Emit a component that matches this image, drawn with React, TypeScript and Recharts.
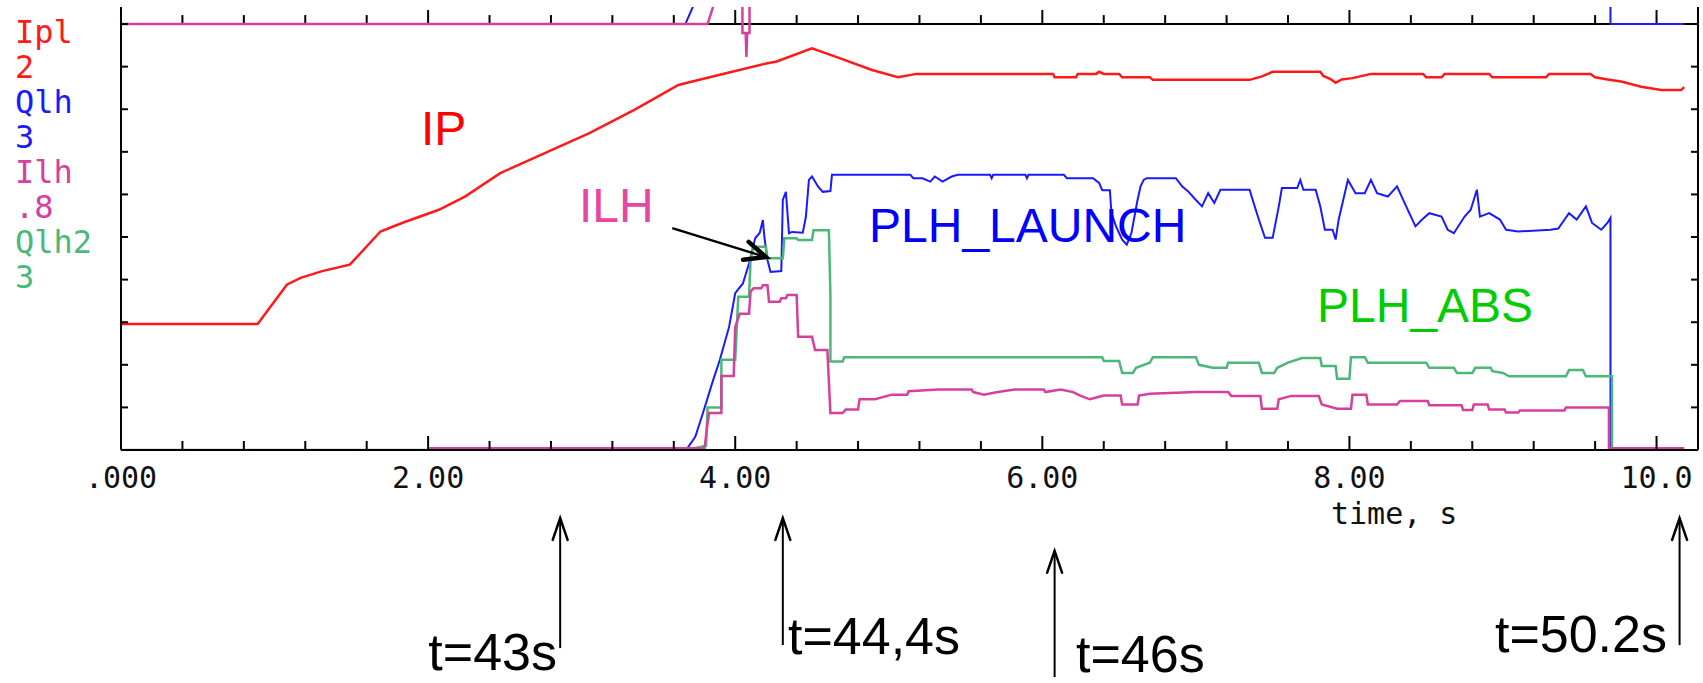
import { LineChart, Line, XAxis, YAxis, ReferenceLine } from "recharts";

// time axis (s), one minor tick every 0.4 s, labelled every 2 s
const xTicks = [0, 0.4, 0.8, 1.2, 1.6, 2, 2.4, 2.8, 3.2, 3.6, 4, 4.4, 4.8, 5.2, 5.6, 6, 6.4, 6.8, 7.2, 7.6, 8, 8.4, 8.8, 9.2, 9.6, 10];
const xMajor = [0, 2, 4, 6, 8, 10];
const xMajorLabels = [".000", "2.00", "4.00", "6.00", "8.00", "10.0"];
// vertical divisions (no labels, each trace has its own scale)
const yTicks = [0, 1, 2, 3, 4, 5, 6, 7, 8, 9, 10];

// trace legend on the left: name / scale / colour
const traceNames = ["Ipl", "Qlh", "Ilh", "Qlh2"];
const traceScales = ["2", "3", ".8", "3"];
const traceColors = ["#ff1a1a", "#1a1aff", "#d6409c", "#4cb878"];

type Pt = [number, number | null];

// plasma current, divisions
const ipl: Pt[] = [
  [0, 2.96], [0.89, 2.96], [1.08, 3.88], [1.17, 4.04], [1.31, 4.2], [1.49, 4.35], [1.69, 5.13], [1.83, 5.33],
  [2.07, 5.64], [2.24, 5.95], [2.47, 6.5], [2.76, 6.97], [3.05, 7.44], [3.34, 7.98], [3.63, 8.57], [3.72, 8.65],
  [3.98, 8.88], [4.21, 9.08], [4.27, 9.12], [4.5, 9.43], [4.68, 9.2], [4.89, 8.92], [5.06, 8.75], [5.18, 8.83],
  [6.07, 8.83], [6.08, 8.75], [6.22, 8.75], [6.23, 8.83], [6.35, 8.83], [6.37, 8.88], [6.4, 8.83], [6.5, 8.83],
  [6.52, 8.75], [6.7, 8.75], [6.72, 8.69], [7.35, 8.69], [7.43, 8.77], [7.5, 8.88], [7.81, 8.88], [7.83, 8.78],
  [7.88, 8.7], [7.91, 8.62], [7.95, 8.7], [8.02, 8.73], [8.14, 8.83], [8.48, 8.83], [8.5, 8.75], [8.6, 8.75],
  [8.62, 8.83], [8.91, 8.83], [8.93, 8.75], [9.28, 8.75], [9.3, 8.83], [9.57, 8.83], [9.6, 8.75], [9.68, 8.7],
  [9.77, 8.65], [9.9, 8.53], [10.03, 8.45], [10.16, 8.45], [10.18, 8.52],
];

// LH launched power
const qlh: Pt[] = [
  [0, 0], [3.68, 0], [3.74, 0.31], [3.79, 0.87], [3.85, 1.57], [3.9, 2.12], [3.96, 2.89], [4.0, 3.68],
  [4.05, 3.91], [4.09, 4.38], [4.13, 4.97], [4.16, 5.1], [4.18, 5.4], [4.19, 5.0], [4.21, 4.46], [4.23, 4.18],
  [4.3, 4.2], [4.31, 5.87], [4.33, 6.06], [4.35, 5.09], [4.37, 5.12], [4.44, 5.1], [4.46, 5.47], [4.48, 6.34],
  [4.5, 6.42], [4.54, 6.18], [4.57, 6.06], [4.62, 6.08], [4.63, 6.46], [5.14, 6.46], [5.16, 6.38], [5.22, 6.38],
  [5.27, 6.3], [5.3, 6.42], [5.35, 6.3], [5.41, 6.42], [5.45, 6.46], [5.66, 6.46], [5.67, 6.38], [5.68, 6.46],
  [5.89, 6.46], [5.9, 6.38], [5.91, 6.46], [6.14, 6.46], [6.16, 6.38], [6.33, 6.38], [6.37, 6.27], [6.39, 6.1],
  [6.44, 6.1], [6.45, 5.56], [6.48, 5.25], [6.52, 4.94], [6.55, 4.82], [6.58, 5.09], [6.62, 5.87], [6.64, 6.19],
  [6.66, 6.34], [6.68, 6.38], [6.87, 6.38], [6.91, 6.19], [6.95, 6.07], [7.0, 5.87], [7.04, 5.72], [7.08, 6.03],
  [7.12, 5.8], [7.16, 6.11], [7.35, 6.11], [7.37, 5.87], [7.41, 5.41], [7.45, 4.98], [7.5, 4.98], [7.54, 5.72],
  [7.56, 6.15], [7.66, 6.15], [7.68, 6.34], [7.7, 6.11], [7.78, 6.11], [7.81, 5.72], [7.84, 5.17], [7.89, 5.17],
  [7.91, 4.94], [7.93, 5.41], [7.99, 6.34], [8.04, 6.03], [8.1, 6.03], [8.14, 6.34], [8.18, 6.03], [8.25, 5.95],
  [8.31, 6.19], [8.35, 5.87], [8.39, 5.56], [8.43, 5.25], [8.47, 5.4], [8.52, 5.56], [8.6, 5.48], [8.64, 5.17],
  [8.68, 5.09], [8.75, 5.48], [8.79, 5.64], [8.83, 6.11], [8.85, 5.48], [8.91, 5.56], [8.98, 5.41], [9.02, 5.17],
  [9.1, 5.13], [9.31, 5.17], [9.36, 5.2], [9.43, 5.56], [9.48, 5.41], [9.54, 5.72], [9.58, 5.33], [9.64, 5.17],
  [9.68, 5.33], [9.7, 5.45], [9.7, 0], [10.18, 0],
];

// LH absorbed power
const qlh2: Pt[] = [
  [0, 0], [3.68, 0], [3.81, 0.1], [3.82, 1.0], [3.91, 1.0], [3.91, 2.12], [4.0, 2.12], [4.02, 3.6], [4.09, 3.6],
  [4.1, 4.46], [4.12, 4.77], [4.2, 4.77], [4.21, 4.5], [4.31, 4.5], [4.32, 4.97], [4.4, 4.97], [4.41, 4.93],
  [4.5, 4.93], [4.51, 5.16], [4.61, 5.16], [4.62, 3.64], [4.62, 2.08], [4.7, 2.08], [4.71, 2.18], [6.39, 2.18],
  [6.4, 2.09], [6.5, 2.09], [6.52, 1.81], [6.59, 1.81], [6.61, 1.93], [6.7, 2.05], [6.72, 2.18], [7.0, 2.18],
  [7.02, 2.0], [7.11, 1.93], [7.2, 1.93], [7.21, 2.05], [7.41, 2.05], [7.43, 1.81], [7.51, 1.81], [7.53, 1.93],
  [7.6, 2.05], [7.69, 2.16], [7.81, 2.16], [7.82, 1.97], [7.91, 1.97], [7.92, 1.67], [8.0, 1.67], [8.01, 2.18],
  [8.1, 2.18], [8.12, 2.05], [8.5, 2.05], [8.52, 1.93], [8.68, 1.93], [8.7, 1.81], [8.8, 1.81], [8.82, 1.93],
  [8.92, 1.93], [8.93, 1.85], [9.0, 1.81], [9.04, 1.73], [9.41, 1.73], [9.43, 1.88], [9.52, 1.88], [9.54, 1.73],
  [9.71, 1.73], [9.71, 0], [10.18, 0],
];

// LH antenna current
const ilh: Pt[] = [
  [2.0, 0.04], [3.8, 0.04], [3.82, 0.63], [3.83, 0.87], [3.91, 0.87], [3.91, 1.74], [3.99, 1.74], [4.0, 2.89],
  [4.03, 3.2], [4.09, 3.2], [4.1, 3.72], [4.12, 3.8], [4.17, 3.8], [4.18, 3.87], [4.21, 3.87], [4.22, 3.48],
  [4.29, 3.48], [4.3, 3.56], [4.33, 3.56], [4.34, 3.64], [4.4, 3.64], [4.41, 2.66], [4.5, 2.66], [4.52, 2.35],
  [4.6, 2.35], [4.62, 0.87], [4.7, 0.87], [4.72, 0.95], [4.8, 0.95], [4.81, 1.19], [4.91, 1.19], [5.02, 1.3],
  [5.12, 1.3], [5.13, 1.38], [5.32, 1.42], [5.54, 1.42], [5.55, 1.36], [5.62, 1.3], [5.71, 1.36], [5.82, 1.42],
  [6.01, 1.42], [6.02, 1.36], [6.12, 1.42], [6.2, 1.36], [6.25, 1.27], [6.31, 1.19], [6.4, 1.28], [6.51, 1.28],
  [6.52, 1.07], [6.62, 1.07], [6.63, 1.28], [6.7, 1.32], [7.0, 1.36], [7.21, 1.36], [7.23, 1.27], [7.42, 1.27],
  [7.43, 0.97], [7.53, 0.97], [7.54, 1.19], [7.62, 1.27], [7.8, 1.27], [7.82, 1.07], [7.92, 0.97], [8.01, 0.97],
  [8.02, 1.3], [8.11, 1.3], [8.12, 1.07], [8.31, 1.07], [8.33, 1.15], [8.51, 1.15], [8.52, 1.05], [8.73, 1.05],
  [8.74, 0.94], [8.8, 0.94], [8.81, 1.07], [8.9, 1.07], [8.91, 0.95], [9.01, 0.95], [9.02, 0.88], [9.1, 0.88],
  [9.11, 0.93], [9.4, 0.93], [9.41, 1.0], [9.69, 1.0], [9.69, 0.04], [10.18, 0.04],
];

// parts of the traces that run off the top division into the panel above
const qlhWrap: Pt[] = [[3.675, 10], [3.73, 10.45], [3.8, null], [9.7, 10.45], [9.7, 10], [10.18, 10]];
const ilhWrap: Pt[] = [
  [0, 10], [3.82, 10], [3.86, 10.45], [3.95, null], [4.047, 10.45], [4.047, 9.79], [4.068, 9.79],
  [4.073, 9.23], [4.078, 9.79], [4.093, 9.79], [4.093, 10.45],
];

// event markers below the time axis
const eventT = [2.86, 4.31, 6.08, 10.15];
const eventTip = [-1.6, -1.6, -2.37, -1.6];
const eventTail = [-4.65, -4.58, -5.33, -4.58];

const rows = (pts: Pt[]) => pts.map(([t, v]) => ({ t, v }));

const MONO = "'DejaVu Sans Mono', monospace";
const SANS = "'Liberation Sans', Arial, sans-serif";

const XTick = (props: any) => {
  const { x, y, payload } = props;
  const i = xMajor.indexOf(payload.value);
  const major = i >= 0;
  return (
    <g>
      <line x1={x} x2={x} y1={y} y2={y - (major ? 14 : 9)} stroke="#000" strokeWidth={2} />
      {major && (
        <text x={x} y={y + 38} textAnchor="middle" fontFamily={MONO} fontSize={30} fill="#111">
          {xMajorLabels[i]}
        </text>
      )}
    </g>
  );
};

const YTick = (dir: number) => (props: any) => (
  <line x1={props.x} x2={props.x + dir * 7} y1={props.y} y2={props.y} stroke="#000" strokeWidth={2} />
);

const arrow = (len: number, spread: number, w: number, headW: number) => (p: any) => {
  const { x1, y1, x2, y2 } = p;
  const a = Math.atan2(y2 - y1, x2 - x1);
  const lx = x2 - len * Math.cos(a - spread);
  const ly = y2 - len * Math.sin(a - spread);
  const rx = x2 - len * Math.cos(a + spread);
  const ry = y2 - len * Math.sin(a + spread);
  return (
    <g>
      <line x1={x1} y1={y1} x2={x2} y2={y2} stroke="#000" strokeWidth={w} />
      <polyline points={`${lx},${ly} ${x2},${y2} ${rx},${ry}`} fill="none" stroke="#000" strokeWidth={headW} strokeLinecap="round" />
    </g>
  );
};

export default function App() {
  const lineProps = { dataKey: "v", dot: false, isAnimationActive: false, activeDot: false, strokeLinejoin: "miter" as const };
  return (
    <div style={{ position: "absolute", left: 0, top: 0, width: 1703, height: 683, background: "#fff" }}>
      <LineChart width={1703} height={683} margin={{ top: 7, right: 0, bottom: 173, left: 21 }}>
        <XAxis
          type="number"
          dataKey="t"
          domain={[0, 10.27]}
          allowDataOverflow
          ticks={xTicks}
          interval={0}
          tickSize={0}
          tickMargin={0}
          tickLine={false}
          tick={XTick}
          axisLine={{ stroke: "#000", strokeWidth: 2 }}
          height={60}
        />
        <YAxis
          type="number"
          domain={[0, 10.4]}
          allowDataOverflow
          ticks={yTicks}
          interval={0}
          tickSize={0}
          tickMargin={0}
          tickLine={false}
          tick={YTick(1)}
          axisLine={{ stroke: "#000", strokeWidth: 2 }}
          width={100}
        />
        <YAxis
          yAxisId="right"
          orientation="right"
          type="number"
          domain={[0, 10.4]}
          allowDataOverflow
          ticks={yTicks}
          interval={0}
          tickSize={0}
          tickMargin={0}
          tickLine={false}
          tick={YTick(-1)}
          axisLine={{ stroke: "#000", strokeWidth: 2 }}
          width={5}
        />

        {/* bottom axis of the panel above */}
        <ReferenceLine y={10} stroke="#000" strokeWidth={2} />
        {xTicks.map((t) => (
          <ReferenceLine
            key={`top-${t}`}
            segment={[{ x: t, y: 10 }, { x: t, y: xMajor.includes(t) ? 10.33 : 10.21 }]}
            stroke="#000"
            strokeWidth={2}
          />
        ))}

        <Line data={rows(ipl)} stroke="#ff1a1a" strokeWidth={2.5} {...lineProps} />
        <Line data={rows(qlh)} stroke="#1a1aff" strokeWidth={2} {...lineProps} />
        <Line data={rows(qlh2)} stroke="#4cb878" strokeWidth={2.5} {...lineProps} />
        <Line data={rows(ilh)} stroke="#d6409c" strokeWidth={2.5} {...lineProps} />
        <Line data={rows(qlhWrap)} stroke="#1a1aff" strokeWidth={2} {...lineProps} />
        <Line data={rows(ilhWrap)} stroke="#d6409c" strokeWidth={2.5} {...lineProps} />

        {/* pointer to the ILH trace */}
        <ReferenceLine
          segment={[{ x: 3.59, y: 5.21 }, { x: 4.2, y: 4.53 }]}
          ifOverflow="visible"
          shape={arrow(23, 0.42, 2.5, 4.5)}
        />
        {eventT.map((t, i) => (
          <ReferenceLine
            key={`ev-${t}`}
            segment={[{ x: t, y: eventTail[i] }, { x: t, y: eventTip[i] }]}
            ifOverflow="visible"
            shape={arrow(23, 0.33, 2, 2.5)}
          />
        ))}
      </LineChart>

      <svg
        width={1703}
        height={683}
        style={{ position: "absolute", left: 0, top: 0, pointerEvents: "none" }}
      >
        {traceNames.map((n, i) => (
          <g key={n} fontFamily={MONO} fontSize={32} fill={traceColors[i]}>
            <text x={15} y={43 + i * 70}>{n}</text>
            <text x={15} y={78 + i * 70}>{traceScales[i]}</text>
          </g>
        ))}

        <g fontFamily={SANS} fontSize={48}>
          <text x={421} y={145} fill="#ff0000">IP</text>
          <text x={579} y={222} fill="#e6479f">ILH</text>
          <text x={869} y={242} fill="#0000ff">PLH_LAUNCH</text>
          <text x={1317} y={322} fill="#00cc00">PLH_ABS</text>
        </g>

        <text x={1331} y={524} fontFamily={MONO} fontSize={30} fill="#111">time, s</text>

        <g fontFamily={SANS} fontSize={52} fill="#000">
          <text x={557} y={670} textAnchor="end">t=43s</text>
          <text x={788} y={654}>t=44,4s</text>
          <text x={1076} y={672}>t=46s</text>
          <text x={1667} y={652} textAnchor="end">t=50.2s</text>
        </g>
      </svg>
    </div>
  );
}
